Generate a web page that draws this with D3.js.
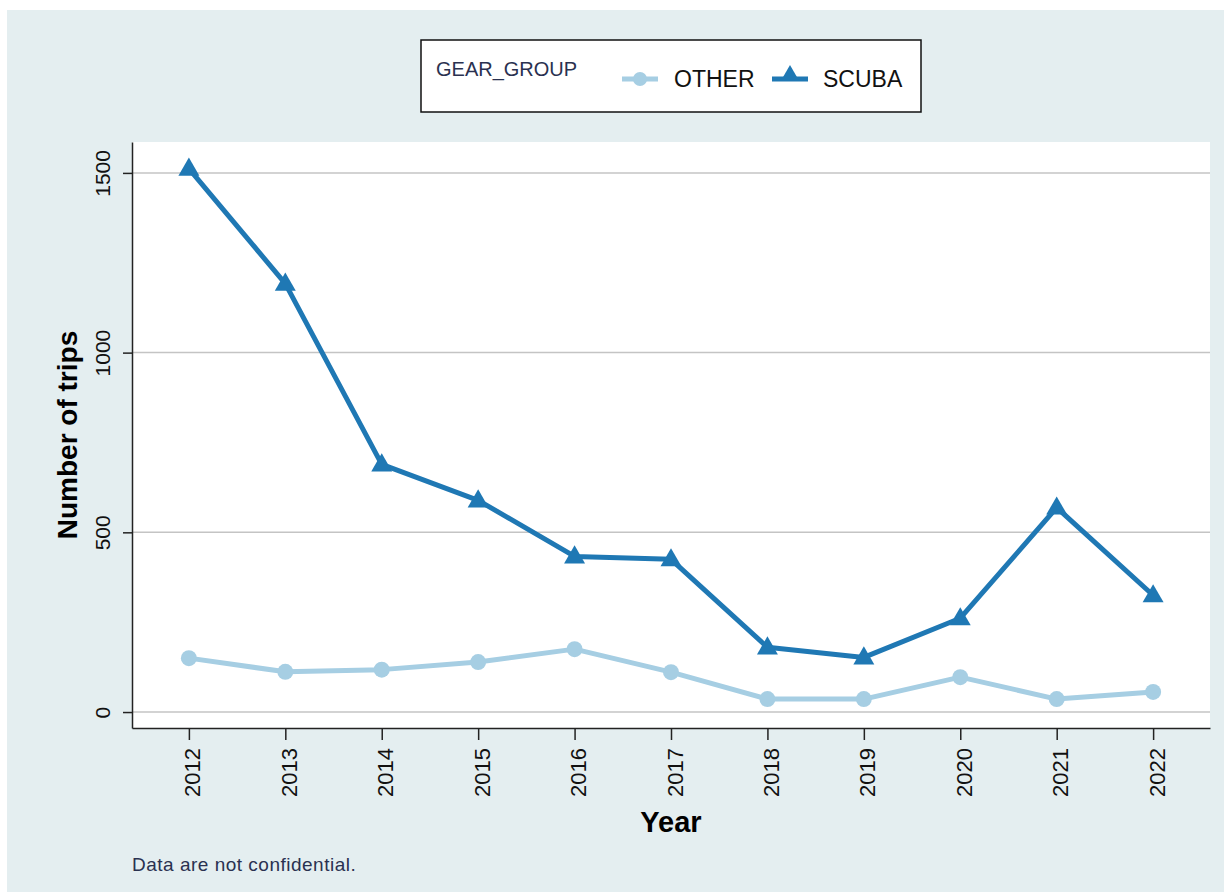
<!DOCTYPE html>
<html>
<head>
<meta charset="utf-8">
<script src="https://cdn.jsdelivr.net/npm/d3@7"></script>
<style>
  html, body { margin: 0; padding: 0; background: #ffffff; }
  svg { display: block; font-family: Arial, "Liberation Sans", sans-serif; }
</style>
</head>
<body>
<div id="chart"></div>
<script>
// Data
const years = [2012, 2013, 2014, 2015, 2016, 2017, 2018, 2019, 2020, 2021, 2022];
const scubaTrips = [1512, 1192, 689, 589, 433, 425, 180, 152, 261, 569, 325];
const otherTrips = [150, 112, 118, 139, 175, 111, 36, 36, 97, 36, 56];
const yTicks = [0, 500, 1000, 1500];
const groupNames = ['OTHER', 'SCUBA'];

const W = 1224, H = 892;
const plot = { left: 132, right: 1210, top: 142, bottom: 728 };

const svg = d3.select('#chart').append('svg')
  .attr('width', W)
  .attr('height', H);

// Panel background
svg.append('rect')
  .attr('x', 7).attr('y', 10)
  .attr('width', W - 7).attr('height', H - 10)
  .attr('fill', '#e4eef0');

// Plot region
svg.append('rect')
  .attr('x', plot.left).attr('y', plot.top)
  .attr('width', plot.right - plot.left)
  .attr('height', plot.bottom - plot.top)
  .attr('fill', '#ffffff');

// Scales
const xScale = d3.scaleLinear()
  .domain([2011.41, 2022.59])
  .range([plot.left, plot.right]);

const yScale = d3.scaleLinear()
  .domain([-44.4, 1586])
  .range([plot.bottom, plot.top]);

// Gridlines
svg.append('g')
  .selectAll('line')
  .data(yTicks)
  .enter().append('line')
  .attr('x1', plot.left)
  .attr('x2', plot.right)
  .attr('y1', d => yScale(d))
  .attr('y2', d => yScale(d))
  .attr('stroke', '#c4c4c4')
  .attr('stroke-width', 1.5);

// Y axis
const yAxis = svg.append('g')
  .attr('transform', `translate(${plot.left},0)`)
  .call(d3.axisLeft(yScale).tickValues(yTicks).tickFormat(d3.format('d'))
    .tickSize(9).tickSizeOuter(0).tickPadding(0));
yAxis.select('.domain').attr('stroke', '#222').attr('stroke-width', 1.5);
yAxis.selectAll('.tick line').attr('stroke', '#222').attr('stroke-width', 1.5);
yAxis.selectAll('.tick text')
  .attr('x', 0).attr('dy', null)
  .attr('transform', 'translate(-22,0) rotate(-90)')
  .attr('text-anchor', 'middle')
  .attr('font-size', 21)
  .attr('fill', '#111');

// X axis
const xAxis = svg.append('g')
  .attr('transform', `translate(0,${plot.bottom})`)
  .call(d3.axisBottom(xScale).tickValues(years).tickFormat(d3.format('d'))
    .tickSize(12).tickSizeOuter(0));
xAxis.select('.domain').attr('stroke', '#222').attr('stroke-width', 1.5);
xAxis.selectAll('.tick line').attr('stroke', '#222').attr('stroke-width', 1.5);
xAxis.selectAll('.tick text')
  .attr('y', 0).attr('dy', null)
  .attr('transform', 'translate(11,20) rotate(-90)')
  .attr('text-anchor', 'end')
  .attr('font-size', 22)
  .attr('fill', '#111');

// Axis titles
svg.append('text')
  .attr('transform', `translate(77,${(plot.top + plot.bottom) / 2}) rotate(-90)`)
  .attr('text-anchor', 'middle')
  .attr('font-size', 28)
  .attr('font-weight', 'bold')
  .attr('fill', '#000')
  .text('Number of trips');

svg.append('text')
  .attr('x', (plot.left + plot.right) / 2)
  .attr('y', 832)
  .attr('text-anchor', 'middle')
  .attr('font-size', 29)
  .attr('font-weight', 'bold')
  .attr('fill', '#000')
  .text('Year');

// Lines
const line = d3.line()
  .x((d, i) => xScale(years[i]))
  .y(d => yScale(d));

const triangle = d3.symbol().type(d3.symbolTriangle).size(190);

const series = [
  { name: 'OTHER', values: otherTrips, color: '#a6cee3' },
  { name: 'SCUBA', values: scubaTrips, color: '#1f78b4' }
];

series.forEach(s => {
  svg.append('path')
    .datum(s.values)
    .attr('fill', 'none')
    .attr('stroke', s.color)
    .attr('stroke-width', 5)
    .attr('stroke-linejoin', 'round')
    .attr('d', line);

  if (s.name === 'OTHER') {
    svg.append('g').selectAll('circle')
      .data(s.values)
      .enter().append('circle')
      .attr('cx', (d, i) => xScale(years[i]))
      .attr('cy', d => yScale(d))
      .attr('r', 8)
      .attr('fill', s.color);
  } else {
    svg.append('g').selectAll('path')
      .data(s.values)
      .enter().append('path')
      .attr('d', triangle)
      .attr('transform', (d, i) => `translate(${xScale(years[i])},${yScale(d) + 1})`)
      .attr('fill', s.color);
  }
});

// Legend
const legend = svg.append('g');
legend.append('rect')
  .attr('x', 421).attr('y', 40)
  .attr('width', 500).attr('height', 72)
  .attr('fill', '#ffffff')
  .attr('stroke', '#111')
  .attr('stroke-width', 1.5);

legend.append('text')
  .attr('x', 436).attr('y', 76)
  .attr('font-size', 20)
  .attr('fill', '#2a3150')
  .text('GEAR_GROUP');

const legendX = [622, 772];
const legendLabelX = [674, 823];
series.forEach((s, i) => {
  legend.append('line')
    .attr('x1', legendX[i]).attr('x2', legendX[i] + 36)
    .attr('y1', 79).attr('y2', 79)
    .attr('stroke', s.color)
    .attr('stroke-width', 5);
  if (s.name === 'OTHER') {
    legend.append('circle')
      .attr('cx', legendX[i] + 18).attr('cy', 79)
      .attr('r', 7)
      .attr('fill', s.color);
  } else {
    legend.append('path')
      .attr('d', d3.symbol().type(d3.symbolTriangle).size(130))
      .attr('transform', `translate(${legendX[i] + 18},${75})`)
      .attr('fill', s.color);
  }
  legend.append('text')
    .attr('x', legendLabelX[i]).attr('y', 87)
    .attr('font-size', 23)
    .attr('fill', '#111')
    .text(groupNames[i]);
});

// Note
svg.append('text')
  .attr('x', 132).attr('y', 871)
  .attr('font-size', 19)
  .attr('letter-spacing', 0.5)
  .attr('fill', '#2a3150')
  .text('Data are not confidential.');
</script>
</body>
</html>
